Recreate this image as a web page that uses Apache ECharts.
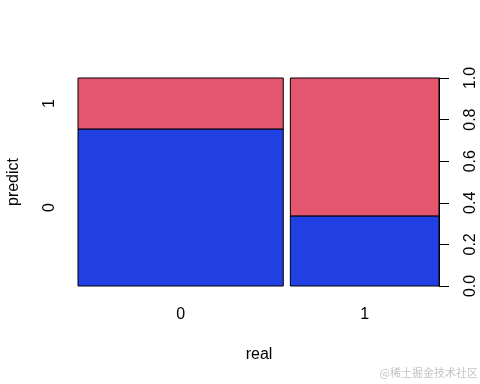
<!DOCTYPE html>
<html><head><meta charset="utf-8">
<script src="https://cdn.jsdelivr.net/npm/echarts@6/dist/echarts.min.js"></script>
<style>html,body{margin:0;padding:0;background:#fff}#c{width:480px;height:384px}</style>
</head><body><div id="c"></div>
<script>
var realCats = ['0', '1'];
var predictCats = ['0', '1'];
var realShare = [0.58, 0.42];
var predict0Share = [0.755, 0.337];
var yTicks = [0, 0.2, 0.4, 0.6, 0.8, 1.0];
var gap = 0.02;

var colors = ['#2140E3', '#E4566E'];
var font = 'Liberation Sans, Arial, sans-serif';

var rects = [];
var x0 = 0;
for (var i = 0; i < realCats.length; i++) {
  rects.push([x0, x0 + realShare[i], 0, predict0Share[i], 0, i]);
  rects.push([x0, x0 + realShare[i], predict0Share[i], 1, 1, i]);
  x0 += realShare[i] + gap;
}
var xMax = x0 - gap;

var chart = echarts.init(document.getElementById('c'), null, {renderer: 'canvas'});
chart.setOption({
  animation: false,
  grid: {left: 78, right: 41, top: 78, bottom: 98},
  xAxis: {type: 'value', min: 0, max: xMax, show: false,
    axisLine: {show: false, onZero: false}, axisTick: {show: false}, axisLabel: {show: false}, splitLine: {show: false}},
  yAxis: {
    type: 'value', position: 'right', min: 0, max: 1, interval: 0.2,
    splitLine: {show: false},
    axisLine: {show: true, onZero: false, lineStyle: {color: '#000', width: 1}},
    axisTick: {show: true, length: 10, lineStyle: {color: '#000'}},
    axisLabel: {rotate: 90, margin: 24, color: '#000', fontSize: 16, fontFamily: font,
      formatter: function (v) { return v.toFixed(1); }}
  },
  graphic: [
    {type: 'text', rotation: Math.PI / 2, x: 14, y: 182,
      style: {text: 'predict', fill: '#000', font: '16px ' + font, textAlign: 'center', textVerticalAlign: 'middle'}},
    {type: 'text', x: 259, y: 355,
      style: {text: 'real', fill: '#000', font: '16px ' + font, textAlign: 'center', textVerticalAlign: 'middle'}},
    {type: 'text', x: 478, y: 373,
      style: {text: '@稀土掘金技术社区', fill: '#c4c4c4', font: '11px Noto Sans CJK SC, sans-serif', textAlign: 'right', textVerticalAlign: 'middle'}}
  ],
  series: [{
    type: 'custom',
    data: rects,
    renderItem: function (params, api) {
      var a = api.coord([api.value(0), api.value(3)]);
      var b = api.coord([api.value(1), api.value(2)]);
      var cat = api.value(4), col = api.value(5);
      var children = [{
        type: 'rect',
        shape: {x: a[0], y: a[1], width: b[0] - a[0], height: b[1] - a[1]},
        style: {fill: colors[cat], stroke: '#000', lineWidth: 1}
      }];
      if (cat === 0) {
        children.push({type: 'text', x: (a[0] + b[0]) / 2, y: 315,
          style: {text: realCats[col], fill: '#000', font: '16px ' + font, textAlign: 'center', textVerticalAlign: 'middle'}});
      }
      if (col === 0) {
        children.push({type: 'text', x: 50, y: (a[1] + b[1]) / 2, rotation: Math.PI / 2,
          style: {text: predictCats[cat], fill: '#000', font: '16px ' + font, textAlign: 'center', textVerticalAlign: 'middle'}});
      }
      return {type: 'group', children: children};
    }
  }]
});
</script></body></html>
